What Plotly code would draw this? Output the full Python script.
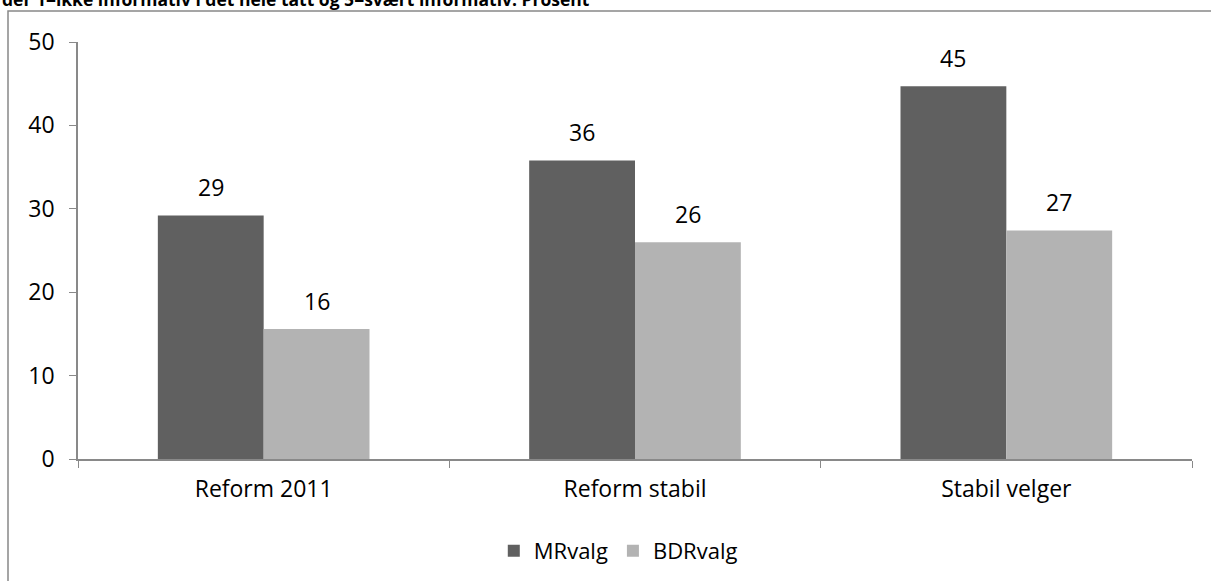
import plotly.graph_objects as go

categories = ["Reform 2011", "Reform stabil", "Stabil velger"]
mr_values = [29.2, 35.8, 44.7]
bdr_values = [15.6, 26.0, 27.4]
mr_labels = ["29", "36", "45"]
bdr_labels = ["16", "26", "27"]
title_text = "der 1=ikke informativ i det hele tatt og 5=svært informativ. Prosent"

font_family = "Open Sans, sans-serif"
fs = 23

fig = go.Figure()
fig.add_trace(go.Bar(name="MRvalg", x=categories, y=mr_values,
                     marker_color="#606060", marker_line_width=0))
fig.add_trace(go.Bar(name="BDRvalg", x=categories, y=bdr_values,
                     marker_color="#b3b3b3", marker_line_width=0))

# value labels placed above each bar via data coordinates
for cat, v, lab in zip(categories, mr_values, mr_labels):
    fig.add_annotation(x=cat, y=v, text=lab, xref="x", yref="y", xshift=-53, yshift=10,
                       yanchor="bottom", showarrow=False, font=dict(size=fs, color="black"))
for cat, v, lab in zip(categories, bdr_values, bdr_labels):
    fig.add_annotation(x=cat, y=v, text=lab, xref="x", yref="y", xshift=53, yshift=10,
                       yanchor="bottom", showarrow=False, font=dict(size=fs, color="black"))

fig.update_layout(
    width=1211, height=581,
    margin=dict(l=78, r=19, t=42, b=122),
    paper_bgcolor="white", plot_bgcolor="white",
    font=dict(family=font_family, size=fs, color="black"),
    barmode="group", bargap=0.43, bargroupgap=0,
    showlegend=True,
    legend=dict(orientation="h", x=0.485, xanchor="center",
                yref="container", y=(581 - 551) / 581, yanchor="middle",
                font=dict(size=22), traceorder="normal"),
    xaxis=dict(showline=True, linecolor="#898989", linewidth=1.5, ticks="outside",
               tickson="boundaries", ticklen=7, tickcolor="#898989", showgrid=False,
               tickfont=dict(size=fs), ticklabelstandoff=9),
    yaxis=dict(range=[0, 50], dtick=10, showline=True, linecolor="#898989", linewidth=1.5,
               ticks="outside", ticklen=7, tickcolor="#898989", showgrid=False,
               zeroline=False, tickfont=dict(size=fs), ticklabelstandoff=10),
)

fig.add_shape(type="rect", xref="paper", yref="paper",
              x0=-70/1114, x1=1225/1114, y0=-140/417, y1=(459-11)/417,
              line=dict(color="#888888", width=1.5), fillcolor="rgba(0,0,0,0)", layer="below")

fig.add_annotation(text="<b>" + title_text + "</b>", xref="paper", yref="paper",
                   x=-78/1114, y=(459-13)/417, xanchor="left", yanchor="bottom",
                   showarrow=False, font=dict(size=17.5, family=font_family, color="black"))

fig.write_html("out.html", config={"displayModeBar": False},
               post_script="document.body.style.margin='0';")
